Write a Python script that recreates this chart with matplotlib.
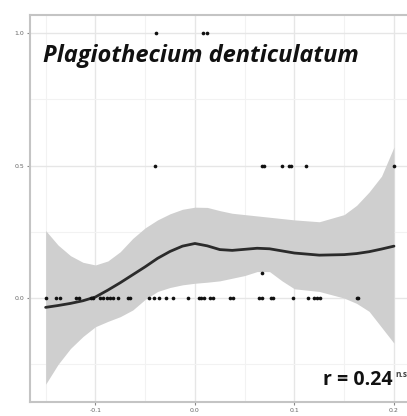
import numpy as np
import matplotlib.pyplot as plt
from matplotlib.ticker import MultipleLocator

# observed points
pts_x = [-0.150, -0.140, -0.136, -0.119, -0.116, -0.104, -0.102, -0.095, -0.092,
         -0.088, -0.085, -0.082, -0.077, -0.067, -0.065, -0.046, -0.041, -0.036,
         -0.029, -0.022, -0.007, 0.004, 0.006, 0.009, 0.015, 0.018, 0.035, 0.038,
         0.064, 0.067, 0.076, 0.078, 0.099, 0.114, 0.120, 0.123, 0.126, 0.163, 0.164,
         0.067, -0.040, 0.067, 0.069, 0.088, 0.095, 0.097, 0.112, 0.200,
         -0.039, 0.008, 0.012]
pts_y = [0.0] * 39 + [0.094] + [0.5] * 8 + [1.0] * 3

# loess fit with confidence band
fit_x = [-0.15, -0.1375, -0.125, -0.1125, -0.1, -0.0875, -0.075, -0.0625, -0.05,
         -0.0375, -0.025, -0.0125, 0.0, 0.0125, 0.025, 0.0375, 0.05, 0.0625, 0.075,
         0.0875, 0.1, 0.125, 0.15, 0.1625, 0.175, 0.1875, 0.2]
fit_y = [-0.035, -0.028, -0.02, -0.01, 0.004, 0.03, 0.058, 0.088, 0.118,
         0.15, 0.176, 0.196, 0.206, 0.197, 0.183, 0.18, 0.184, 0.188, 0.186,
         0.178, 0.17, 0.162, 0.164, 0.168, 0.175, 0.185, 0.196]
fit_hi = [0.255, 0.2, 0.16, 0.135, 0.125, 0.14, 0.175, 0.225, 0.265,
          0.295, 0.318, 0.335, 0.343, 0.342, 0.33, 0.32, 0.315, 0.31, 0.305,
          0.30, 0.295, 0.288, 0.315, 0.35, 0.40, 0.46, 0.57]
fit_lo = [-0.325, -0.25, -0.19, -0.145, -0.108, -0.088, -0.07, -0.045, -0.005,
          0.025, 0.04, 0.05, 0.056, 0.06, 0.065, 0.075, 0.085, 0.1, 0.1,
          0.065, 0.035, 0.025, 0.0, -0.02, -0.05, -0.11, -0.17]

species = 'Plagiothecium denticulatum'
r_label = 'r = 0.24'

fig = plt.figure(figsize=(4.07, 4.16), dpi=100)
ax = fig.add_axes([30 / 407, 1 - 402 / 416, 1 - 30 / 407, (402 - 15) / 416])

ax.fill_between(fit_x, fit_lo, fit_hi, color='#cfcfcf', lw=0, zorder=2)
ax.plot(fit_x, fit_y, color='#2b2b2b', lw=2, solid_joinstyle='round',
        solid_capstyle='round', zorder=3)
ax.scatter(pts_x, pts_y, s=7, color='#111111', marker='o', lw=0, zorder=4)

ax.set_xlim(-0.1657, 0.2131)
ax.set_ylim(-0.392, 1.068)
ax.xaxis.set_minor_locator(MultipleLocator(0.05))
ax.yaxis.set_minor_locator(MultipleLocator(0.25))
ax.grid(which='major', color='#e6e6e6', lw=1.0, zorder=0)
ax.grid(which='minor', color='#f2f2f2', lw=0.8, zorder=0)
ax.set_axisbelow(True)

for side in ['left', 'top', 'bottom']:
    ax.spines[side].set_color('#c4c4c4')
    ax.spines[side].set_linewidth(1.5)
ax.spines['right'].set_visible(False)
ax.tick_params(which='major', length=2.5, width=0.8, color='#888888',
               labelsize=4.5, labelcolor='#666666', pad=1.5)
ax.tick_params(which='minor', length=0)

ax.set_xticks([-0.1, 0.0, 0.1, 0.2])
ax.set_xticklabels(['-0.1', '0.0', '0.1', '0.2'])
ax.set_yticks([0.0, 0.5, 1.0])
ax.set_yticklabels(['0.0', '0.5', '1.0'])

fig.text(43 / 407, 1 - 62 / 416, species, fontsize=17, fontweight='bold',
         fontstyle='italic', family='Open Sans', color='#111111', va='baseline')
fig.text(323 / 407, 1 - 385 / 416, r_label, fontsize=14, fontweight='bold',
         family='Open Sans', color='#111111', va='baseline')
fig.text(395 / 407, 1 - 377 / 416, 'n.s', fontsize=6, fontweight='bold',
         family='Open Sans', color='#444444', va='baseline')

fig.savefig('out.png', dpi=100)
